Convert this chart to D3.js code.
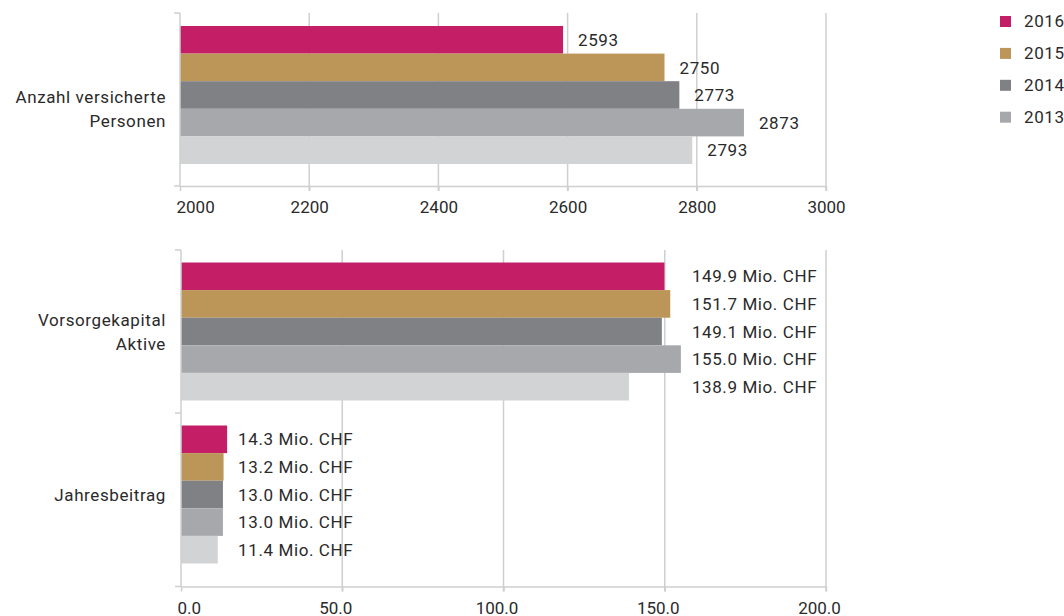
<!DOCTYPE html>
<html>
<head>
<meta charset="utf-8">
<script src="https://cdn.jsdelivr.net/npm/d3@7"></script>
<style>
  body { margin: 0; background: #fff; }
  text { font-family: Roboto, "Liberation Sans", sans-serif; fill: #2a2a2a; }
</style>
</head>
<body>
<div id="chart"></div>
<script>
// years, top to bottom inside each group (last one has no legend entry)
var years = ["2016", "2015", "2014", "2013", "2012"];
var legendYears = ["2016", "2015", "2014", "2013"];
var colors = ["#c41e67", "#bb9658", "#808185", "#a7a8ab", "#d2d3d5"];

// top chart
var topCategories = [["Anzahl versicherte", "Personen"]];
var personsValues = [2593, 2750, 2773, 2873, 2793];
var topTicks = [2000, 2200, 2400, 2600, 2800, 3000];

// bottom chart
var bottomCategories = [["Vorsorgekapital", "Aktive"], ["Jahresbeitrag"]];
var capitalValues = [149.9, 151.7, 149.1, 155.0, 138.9];
var contributionValues = [14.3, 13.2, 13.0, 13.0, 11.4];
var bottomTicks = [0, 50, 100, 150, 200];
var bottomTickLabels = ["0.0", "50.0", "100.0", "150.0", "200.0"];

var width = 1064, height = 616;
var gridColor = "#cfcfcf";

var svg = d3.select("#chart").append("svg")
    .attr("width", width)
    .attr("height", height);

// draws one panel: grid, axes, bars, labels
function panel(opts) {
  var x = d3.scaleLinear().domain(opts.domain).range([opts.left, 826]);
  // category bands (they stop a bit above the x axis)
  var y = d3.scaleBand()
      .domain(opts.categories.map(function(c, i) { return i; }))
      .range([opts.top, opts.bandBottom]);

  var g = svg.append("g");

  // vertical grid lines
  g.selectAll(".grid")
      .data(opts.ticks.slice(1))
    .enter().append("line")
      .attr("x1", function(d) { return x(d); })
      .attr("x2", function(d) { return x(d); })
      .attr("y1", opts.top)
      .attr("y2", opts.bottom + 5)
      .attr("stroke", gridColor)
      .attr("stroke-width", 1.5);

  // bars, one group per category
  var barH = 27.6;
  opts.series.forEach(function(values, ci) {
    var groupTop = y(ci) + (y.bandwidth() - barH * values.length) / 2;
    var inner = d3.scaleBand().domain(years).range([groupTop, groupTop + barH * values.length]);

    g.selectAll(".bar" + ci)
        .data(values)
      .enter().append("rect")
        .attr("x", x(opts.domain[0]))
        .attr("y", function(d, i) { return inner(years[i]); })
        .attr("width", function(d) { return x(d) - x(opts.domain[0]); })
        .attr("height", inner.bandwidth())
        .attr("fill", function(d, i) { return colors[i]; });

    var maxV = d3.max(values);
    g.selectAll(".lbl" + ci)
        .data(values)
      .enter().append("text")
        .attr("x", function(d) { return opts.alignLabels ? x(maxV) + 11 : x(d) + 15; })
        .attr("y", function(d, i) { return inner(years[i]) + inner.bandwidth() / 2; })
        .attr("dy", "0.36em")
        .style("font-size", "17px")
        .style("letter-spacing", "0.6px")
        .text(function(d) { return opts.format(d); });

    // category label
    var lines = opts.categories[ci];
    var cy = groupTop + barH * values.length / 2 + opts.labelShift;
    var t = g.append("text")
        .attr("text-anchor", "end")
        .style("font-size", "17px")
        .style("letter-spacing", "0.6px");
    lines.forEach(function(line, li) {
      t.append("tspan")
          .attr("x", 166)
          .attr("y", cy + (li - (lines.length - 1) / 2) * 24)
          .attr("dy", "0.36em")
          .text(line);
    });
  });

  // left axis with ticks at category boundaries
  var axisX = x(opts.domain[0]);
  var bounds = opts.categories.map(function(c, i) { return y(i); }).concat([opts.bottom]);
  g.append("line")
      .attr("x1", axisX).attr("x2", axisX)
      .attr("y1", opts.top).attr("y2", opts.bottom)
      .attr("stroke", gridColor).attr("stroke-width", 1.5);
  g.selectAll(".ytick")
      .data(bounds)
    .enter().append("line")
      .attr("x1", axisX - 6).attr("x2", axisX)
      .attr("y1", function(d) { return d; })
      .attr("y2", function(d) { return d; })
      .attr("stroke", gridColor).attr("stroke-width", 1.5);

  // bottom axis
  var xAxis = g.append("g")
      .attr("transform", "translate(0," + opts.bottom + ")")
      .call(d3.axisBottom(x)
          .tickValues(opts.ticks)
          .tickSize(5)
          .tickSizeOuter(0)
          .tickFormat(function(d, i) { return opts.tickLabels[i]; }));
  xAxis.select(".domain").attr("stroke", gridColor).attr("stroke-width", 1.5);
  xAxis.selectAll(".tick line").attr("stroke", gridColor).attr("stroke-width", 1.5);
  xAxis.selectAll(".tick text")
      .attr("y", 27)
      .attr("dy", 0)
      .attr("dx", function(d, i) { return i === 0 ? -4 : opts.tickShift; })
      .attr("text-anchor", function(d, i) { return i === 0 ? "start" : "middle"; })
      .style("font-size", "17px")
      .style("fill", "#2a2a2a");
  xAxis.attr("font-family", null).attr("font-size", null);
}

panel({
  domain: [2000, 3000], left: 180, top: 13, bandBottom: 177, bottom: 186,
  categories: topCategories, series: [personsValues], labelShift: 14,
  ticks: topTicks, tickLabels: topTicks.map(String), tickShift: 0,
  format: function(d) { return d; }, alignLabels: false
});

panel({
  domain: [0, 200], left: 181, top: 250, bandBottom: 576, bottom: 586.5,
  categories: bottomCategories, series: [capitalValues, contributionValues], labelShift: 0,
  ticks: bottomTicks, tickLabels: bottomTickLabels, tickShift: -7,
  format: function(d) { return d.toFixed(1) + " Mio. CHF"; }, alignLabels: true
});

// legend
var legend = svg.append("g").selectAll("g")
    .data(legendYears)
  .enter().append("g")
    .attr("transform", function(d, i) { return "translate(1000," + (16 + i * 31.9) + ")"; });
legend.append("rect")
    .attr("width", 11).attr("height", 11)
    .attr("fill", function(d, i) { return colors[i]; });
legend.append("text")
    .attr("x", 24).attr("y", 11)
    .style("font-size", "17px")
    .style("letter-spacing", "0.6px")
    .text(function(d) { return d; });
</script>
</body>
</html>
